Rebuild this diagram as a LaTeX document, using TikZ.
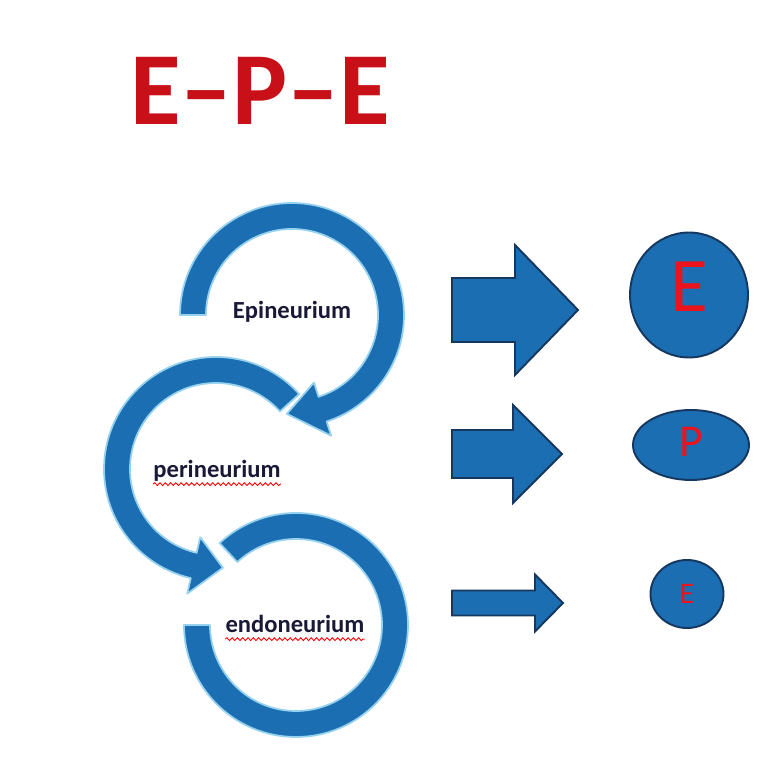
\documentclass[tikz,border=0pt]{standalone}
\usepackage{fontspec}
\setmainfont{Carlito}
\usetikzlibrary{shapes.geometric,decorations.pathmorphing}

\definecolor{bandblue}{RGB}{27,110,178}
\definecolor{bandedge}{RGB}{150,210,238}
\definecolor{darkedge}{RGB}{22,55,95}
\definecolor{titlered}{RGB}{200,16,24}
\definecolor{letterred}{RGB}{235,20,28}
\definecolor{labelink}{RGB}{25,25,55}

\tikzset{
  band/.style={fill=bandblue, draw=bandedge, line width=1pt, line join=round},
  block/.style={fill=bandblue, draw=darkedge, line width=1.1pt, line join=miter},
  layer/.style={ellipse, fill=bandblue, draw=darkedge, line width=1.1pt, inner sep=0pt, text=letterred},
  tissue/.style={font=\fontsize{14}{14}\selectfont\bfseries, text=labelink, inner sep=0pt, anchor=base},
  spell/.style={draw=red, line width=0.5pt, decorate, decoration={snake, amplitude=0.8pt, segment length=3pt}}
}

% block arrow: x start, x head, x tip, y centre, half shaft, half head
\newcommand{\blockarrow}[6]{%
  \draw[block] (#1,{#4-#5}) -- (#2,{#4-#5}) -- (#2,{#4-#6}) -- (#3,#4)
    -- (#2,{#4+#6}) -- (#2,{#4+#5}) -- (#1,{#4+#5}) -- cycle;}

\begin{document}
\begin{tikzpicture}[x=0.02cm,y=0.02cm]
\useasboundingbox (0,0) rectangle (775,761);

\node[anchor=base, inner sep=0pt, text=titlered, font=\fontsize{59}{59}\selectfont\bfseries] (epe) at (260,636) {E--P--E};

% epineurium
\begin{scope}[shift={(292,446)}]
\draw[band] (180:112) arc[start angle=180, end angle=-72, radius=112]
  -- (-72:127) -- (-93:99) -- (-72:71) -- (-72:86)
  arc[start angle=-72, end angle=180, radius=86] -- cycle;
\end{scope}
\node[tissue] (epi) at (292,442) {Epineurium};

% perineurium
\begin{scope}[shift={(216,292)}]
\draw[band] (42:112) arc[start angle=42, end angle=257, radius=112]
  -- (257:128) -- (274:99) -- (257:70) -- (257:86)
  arc[start angle=257, end angle=42, radius=86] -- cycle;
\end{scope}
\node[tissue] (peri) at (217,283) {perineurium};
\draw[spell] ([yshift=-3.5pt]peri.base west) -- ([yshift=-3.5pt]peri.base east);

% endoneurium
\begin{scope}[shift={(296,136)}]
\draw[band] (180:112) arc[start angle=180, end angle=493, radius=112]
  -- (133:86) arc[start angle=493, end angle=180, radius=86] -- cycle;
\end{scope}
\node[tissue] (endo) at (295,128) {endoneurium};
\draw[spell] ([yshift=-3.5pt]endo.base west) -- ([yshift=-3.5pt]endo.base east);

\blockarrow{452}{515}{578}{451}{32}{65}
\blockarrow{452}{513}{562}{307}{24}{49}
\blockarrow{452}{535}{563}{158}{12.5}{28.5}

\node[layer, minimum width=2.36cm, minimum height=2.5cm, text depth=0.32cm,
  font=\fontsize{44}{44}\selectfont] (bigE) at (689,466) {E};
\node[layer, minimum width=2.32cm, minimum height=1.4cm, text depth=0.12cm,
  font=\fontsize{26}{26}\selectfont] (midP) at (691,316) {P};
\node[layer, minimum width=1.46cm, minimum height=1.36cm,
  font=\fontsize{17}{17}\selectfont] (smallE) at (687,167) {E};
\end{tikzpicture}
\end{document}
